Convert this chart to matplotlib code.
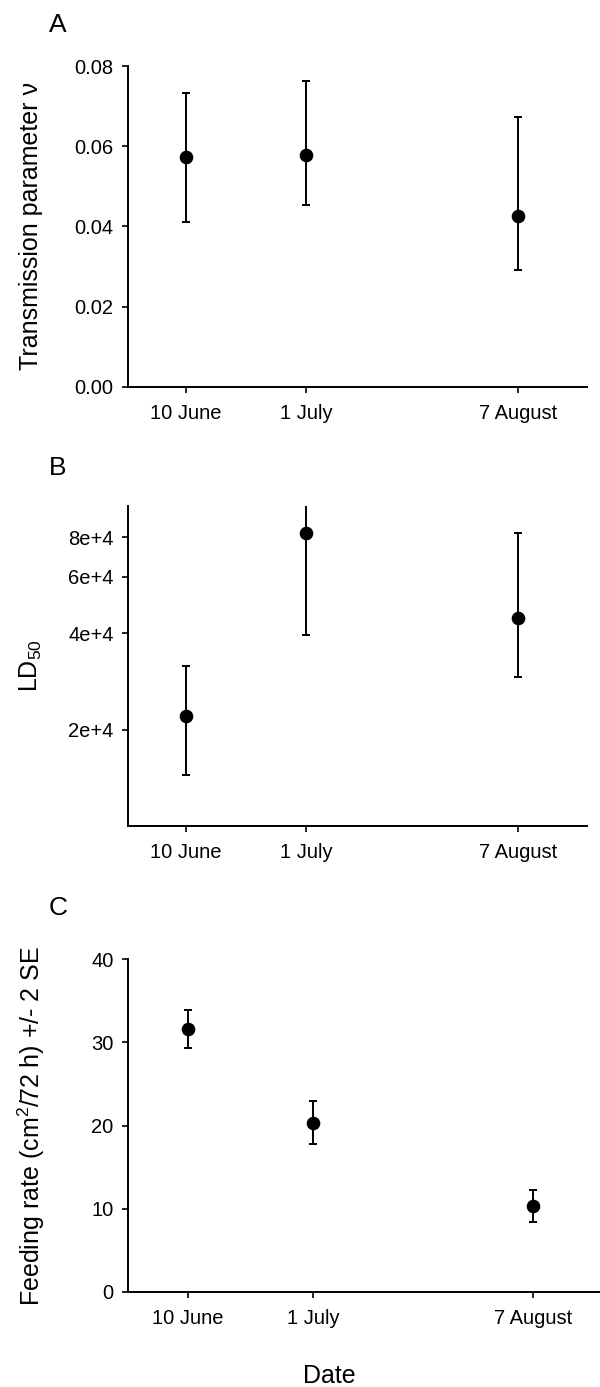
import numpy as np
import pandas as pd
import matplotlib
matplotlib.use("Agg")
import matplotlib.pyplot as plt
from matplotlib.ticker import FixedLocator, NullLocator

plt.rcParams['font.family'] = ['Liberation Sans', 'DejaVu Sans']
plt.rcParams['mathtext.fontset'] = 'custom'
plt.rcParams['mathtext.rm'] = 'Liberation Sans'
plt.rcParams['mathtext.it'] = 'Liberation Sans:italic'
plt.rcParams['mathtext.bf'] = 'Liberation Sans:bold'

# sampling dates
date_labels = ['10 June', '1 July', '7 August']

# A: transmission parameter (estimate, lower, upper)
trans = [0.0572, 0.0577, 0.0427]
trans_lo = [0.0411, 0.0453, 0.0291]
trans_hi = [0.0733, 0.0763, 0.0674]

# B: LD50
ld50 = [22100, 82200, 44600]
ld50_lo = [14400, 39400, 29300]
ld50_hi = [31600, 120000, 82200]

# C: feeding rate +/- 2 SE
feed = [31.6, 20.3, 10.3]
feed_lo = [29.3, 17.8, 8.4]
feed_hi = [33.9, 22.9, 12.2]

dts = pd.to_datetime(date_labels, format='%d %B')
x = np.array([(d - dts[0]).days for d in dts])

W, H = 600, 1387
fig = plt.figure(figsize=(W / 100, H / 100), dpi=100)

def box(l, r, t, b):
    return [l / W, 1 - b / H, (r - l) / W, (b - t) / H]

axA = fig.add_axes(box(128.3, 586.7, 66, 386.7))
axB = fig.add_axes(box(128.3, 586.7, 506, 826))
axC = fig.add_axes(box(128.3, 604.8, 959.3, 1291.7))

def style(ax):
    for s in ['top', 'right']:
        ax.spines[s].set_visible(False)
    for s in ['left', 'bottom']:
        ax.spines[s].set_linewidth(1.4)
    ax.tick_params(direction='out', length=4.5, width=1.2, labelsize=14.5, pad=6)
    ax.tick_params(axis='x', pad=8)
    ax.set_xlim(-10, 70)
    ax.set_xticks(x)
    ax.set_xticklabels(date_labels)

def draw(ax, y, lo, hi):
    y = np.array(y); lo = np.array(lo); hi = np.array(hi)
    ax.errorbar(x, y, yerr=[y - lo, hi - y], fmt='o', color='k', ms=8.8,
                elinewidth=1.4, capsize=2.6, capthick=1.4)

draw(axA, trans, trans_lo, trans_hi)
style(axA)
axA.set_ylim(0, 0.08)
axA.set_yticks([0, 0.02, 0.04, 0.06, 0.08])
axA.set_yticklabels(['0.00', '0.02', '0.04', '0.06', '0.08'])

draw(axB, ld50, ld50_lo, ld50_hi)
style(axB)
axB.set_yscale('log')
axB.set_ylim(1e4, 1e5)
axB.yaxis.set_major_locator(FixedLocator([2e4, 4e4, 6e4, 8e4]))
axB.yaxis.set_minor_locator(NullLocator())
axB.set_yticklabels(['2e+4', '4e+4', '6e+4', '8e+4'])

draw(axC, feed, feed_lo, feed_hi)
style(axC)
axC.set_ylim(0, 40)
axC.set_yticks([0, 10, 20, 30, 40])

lab = 18
fig.text(31 / W, 1 - 226 / H, 'Transmission parameter \u03bd', rotation=90,
         ha='center', va='center', fontsize=lab)
fig.text(31 / W, 1 - 666 / H, 'LD$_{50}$', rotation=90,
         ha='center', va='center', fontsize=lab)
fig.text(31 / W, 1 - 1126 / H, 'Feeding rate (cm$^2$/72 h) +/- 2 SE', rotation=90,
         ha='center', va='center', fontsize=lab)
fig.text(329 / W, 1 - 1383 / H, 'Date', ha='center', va='baseline', fontsize=lab)

for letter, yb in [('A', 32), ('B', 475), ('C', 915)]:
    fig.text(49 / W, 1 - yb / H, letter, ha='left', va='baseline', fontsize=19)

fig.savefig('out.png', dpi=100)
